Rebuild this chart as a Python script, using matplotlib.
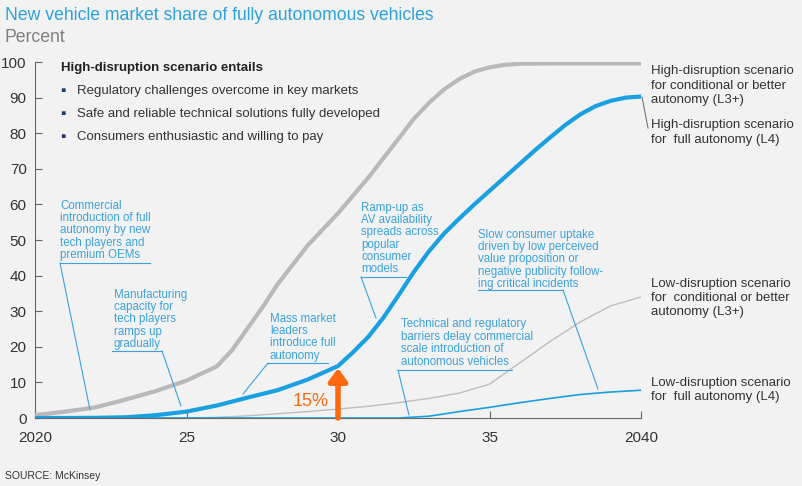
import matplotlib
matplotlib.use("Agg")
import matplotlib.pyplot as plt

plt.rcParams['font.family'] = ['Liberation Sans', 'DejaVu Sans']

# High-disruption, conditional or better autonomy (L3+)
high_l3_years = [2020, 2021, 2022, 2023, 2024, 2025, 2026, 2026.5, 2027, 2027.5, 2028, 2028.5,
                 2029, 2029.5, 2030, 2030.5, 2031, 2031.5, 2032, 2032.5, 2033, 2033.5, 2034,
                 2034.5, 2035, 2035.5, 2036, 2037, 2038, 2039, 2040]
high_l3 = [0.8, 1.8, 3.0, 5.2, 7.6, 10.5, 14.5, 19, 25, 31, 37.5, 43, 48.5, 53, 57.5, 62.5,
           67.5, 73, 78.5, 84, 88.5, 92.3, 95.2, 97.3, 98.5, 99.2, 99.5, 99.6, 99.6, 99.6, 99.6]

# High-disruption, full autonomy (L4)
high_l4_years = [2020, 2021, 2022, 2023, 2024, 2025, 2026, 2027, 2028, 2029, 2030, 2030.5,
                 2031, 2031.5, 2032, 2032.5, 2033, 2033.5, 2034, 2034.5, 2035, 2035.5, 2036,
                 2036.5, 2037, 2037.5, 2038, 2038.5, 2039, 2039.5, 2040]
high_l4 = [0, 0, 0.05, 0.2, 0.8, 1.8, 3.5, 5.7, 7.8, 10.8, 14.6, 18.5, 22.8, 28.2, 34.5, 41,
           46.8, 51.8, 56, 60, 63.8, 67.6, 71.4, 75.2, 78.8, 82.3, 85.3, 87.6, 89.1, 90.0, 90.3]

# Low-disruption scenarios
low_years = [2020, 2021, 2022, 2023, 2024, 2025, 2026, 2027, 2028, 2029, 2030, 2031, 2032,
             2033, 2034, 2035, 2036, 2037, 2038, 2039, 2040]
low_l3 = [0, 0, 0, 0, 0, 0, 0.2, 0.6, 1.2, 1.8, 2.5, 3.3, 4.3, 5.5, 7, 9.5, 15.5, 21.5, 27,
          31.5, 34]
low_l4 = [0, 0, 0, 0, 0, 0, 0, 0, 0, 0, 0, 0, 0, 0.5, 1.8, 3, 4.3, 5.5, 6.6, 7.3, 7.8]

yticks = [0, 10, 20, 30, 40, 50, 60, 70, 80, 90, 100]
xticks = [2020, 2025, 2030, 2035, 2040]
xticklabels = ["2020", "25", "30", "35", "2040"]

BG = "#f2f2f2"
BLUE = "#1aa0e0"
ABLUE = "#3aa3dc"
GREY = "#b9b9bc"
TXT = "#333333"
ORANGE = "#ff6a10"

fig = plt.figure(figsize=(8.02, 4.86), dpi=100, facecolor=BG)
ax = fig.add_axes([35/802, 1-418/486, (641-35)/802, (418-62)/486])
ax.set_facecolor(BG)

ax.plot(low_years, low_l3, color="#bdbdbd", lw=1.0, zorder=3)
ax.plot(high_l3_years, high_l3, color=GREY, lw=3.0, zorder=3, solid_capstyle='butt',
        solid_joinstyle='round')
ax.plot(low_years, low_l4, color=BLUE, lw=1.2, zorder=4)
ax.plot(high_l4_years, high_l4, color=BLUE, lw=3.0, zorder=4, solid_capstyle='butt',
        solid_joinstyle='round')

ax.set_xlim(2020, 2040)
ax.set_ylim(0, 100)
ax.set_yticks(yticks)
ax.set_yticklabels([str(v) for v in yticks])
ax.set_xticks(xticks)
ax.set_xticklabels(xticklabels)
for s in ['top', 'right']:
    ax.spines[s].set_visible(False)
for s in ['left', 'bottom']:
    ax.spines[s].set_color("#666666")
    ax.spines[s].set_linewidth(0.8)
ax.tick_params(axis='both', direction='in', length=5, color="#666666", width=0.8,
               labelsize=11, labelcolor=TXT)
ax.tick_params(axis='y', pad=6)
ax.tick_params(axis='x', pad=9)


def px(x, y):
    return (x/802, 1-y/486)


# Title
fig.text(*px(5, 15), "New vehicle market share of fully autonomous vehicles",
         color="#2ba2dc", fontsize=12.7, va='center', ha='left')
fig.text(*px(5, 37), "Percent", color="#7f7f7f", fontsize=12.7, va='center', ha='left')
fig.text(*px(5, 476), "SOURCE: McKinsey", color=TXT, fontsize=7.5, va='center', ha='left')

# Box text
fig.text(*px(61, 68), "High-disruption scenario entails", fontsize=9.5, fontweight='bold',
         color="#222222", va='center')
for i, t in enumerate(["Regulatory challenges overcome in key markets",
                       "Safe and reliable technical solutions fully developed",
                       "Consumers enthusiastic and willing to pay"]):
    y = 91 + i*23
    fig.text(*px(60, y), "\u25aa", fontsize=11, color="#1f3a6e", va='center')
    fig.text(*px(77, y), t, fontsize=9.5, color="#333333", va='center')

# Right labels
rlab = [(72, 1.3, "High-disruption scenario\nfor conditional or better\nautonomy (L3+)"),
        (126, 1.3, "High-disruption scenario\nfor  full autonomy (L4)"),
        (285, 1.2, "Low-disruption scenario\nfor  conditional or better\nautonomy (L3+)"),
        (384, 1.2, "Low-disruption scenario\nfor  full autonomy (L4)")]
for y, ls, t in rlab:
    fig.text(*px(651, y-7), t, fontsize=9.5, color="#333333", va='top', ha='left',
             linespacing=ls)


def fline(x0, y0, x1, y1, color=ABLUE, lw=0.8):
    fig.add_artist(plt.Line2D([x0/802, x1/802], [1-y0/486, 1-y1/486], color=color, lw=lw))


fline(642, 97, 648, 128, color="#666666", lw=0.7)

# Annotations
ann = [
    (60, 200, "Commercial\nintroduction of full\nautonomy by new\ntech players and\npremium OEMs",
     (60, 263, 150, 263), (60, 263, 90, 410)),
    (114, 289, "Manufacturing\ncapacity for\ntech players\nramps up\ngradually",
     (112, 351, 162, 351), (162, 351, 181, 406)),
    (270, 313, "Mass market\nleaders\nintroduce full\nautonomy",
     (268, 363, 328, 363), (268, 363, 243, 394)),
    (361, 202, "Ramp-up as\nAV availability\nspreads across\npopular\nconsumer\nmodels",
     (361, 277, 406, 277), (361, 277, 376, 318)),
    (478, 229, "Slow consumer uptake\ndriven by low perceived\nvalue proposition or\nnegative publicity follow-\ning critical incidents",
     (478, 290, 563, 290), (563, 290, 598, 389)),
    (401, 319, "Technical and regulatory\nbarriers delay commercial\nscale introduction of\nautonomous vehicles",
     (398, 370, 512, 370), (398, 370, 409, 415)),
]
for x, y, t, u, l in ann:
    for i, line in enumerate(t.split("\n")):
        fig.text(*px(x, y + 8.5 + i*12.4), line, fontsize=8.3, color=ABLUE,
                 va='baseline', ha='left')
    fline(*u)
    fline(*l)

# Orange arrow at 2030
ax.annotate("", xy=(2030, 14.0), xytext=(2030, 0),
            arrowprops=dict(arrowstyle="-|>,head_length=0.75,head_width=0.55", color=ORANGE,
                            lw=4, shrinkA=0, shrinkB=0), zorder=6)
ax.text(2029.7, 4.5, "15%", color=ORANGE, fontsize=13, ha='right', va='center')

fig.savefig("out.png", dpi=100, facecolor=BG)
